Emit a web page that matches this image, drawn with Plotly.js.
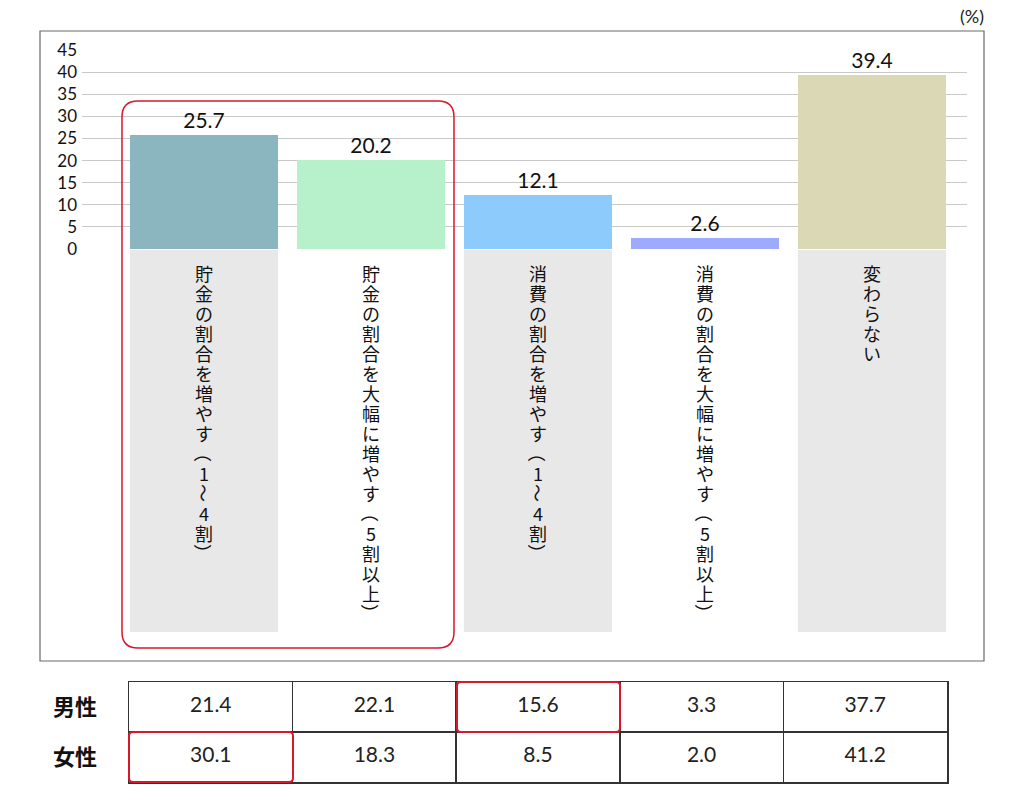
<!DOCTYPE html>
<html>
<head>
<meta charset="utf-8">
<script src="https://cdn.plot.ly/plotly-3.0.1.min.js"></script>
<style>
  html, body { margin: 0; padding: 0; background: #fff; }
</style>
</head>
<body>
<div id="chart"></div>
<script>
// data
const categories = [
    "貯金の割合を増やす（1～4割）",
    "貯金の割合を大幅に増やす（5割以上）",
    "消費の割合を増やす（1～4割）",
    "消費の割合を大幅に増やす（5割以上）",
    "変わらない"
];
const totalValues = [25.7, 20.2, 12.1, 2.6, 39.4];
const maleValues = [21.4, 22.1, 15.6, 3.3, 37.7];
const femaleValues = [30.1, 18.3, 8.5, 2.0, 41.2];
const rowLabels = ["男性", "女性"];
const barColors = ["#8bb6bf", "#b7f1cc", "#8ecbfd", "#9eaafd", "#dbd8b6"];

const W = 1024, H = 801;
const FONT = "Noto Sans CJK JP, Noto Sans, sans-serif";
const NUMFONT = "Lato, Noto Sans CJK JP, sans-serif";
const RED = "#d8192b";
const GRIDLINE = "#333";

// pixel -> paper helpers (margins are zero so paper == page)
const px = v => v / W;
const py = v => 1 - v / H;

function roundRect(x0, y0, x1, y1, r) {
    const X = v => px(v).toFixed(5), Y = v => py(v).toFixed(5);
    return `M${X(x0 + r)},${Y(y0)} L${X(x1 - r)},${Y(y0)} Q${X(x1)},${Y(y0)} ${X(x1)},${Y(y0 + r)} ` +
        `L${X(x1)},${Y(y1 - r)} Q${X(x1)},${Y(y1)} ${X(x1 - r)},${Y(y1)} ` +
        `L${X(x0 + r)},${Y(y1)} Q${X(x0)},${Y(y1)} ${X(x0)},${Y(y1 - r)} ` +
        `L${X(x0)},${Y(y0 + r)} Q${X(x0)},${Y(y0)} ${X(x0 + r)},${Y(y0)} Z`;
}

const barWidth = 0.888;

const bars = {
    type: "bar",
    x: categories,
    y: totalValues,
    width: barWidth,
    marker: {color: barColors, line: {width: 0}},
    text: totalValues.map(v => v.toFixed(1)),
    textposition: "outside",
    textfont: {family: NUMFONT, size: 21, color: "#111"},
    cliponaxis: false,
    hoverinfo: "skip",
    xaxis: "x",
    yaxis: "y"
};

// the small table under the chart: a text grid on its own subplot
const colIdx = categories.map((c, i) => i);
const tableText = {
    type: "scatter",
    mode: "text",
    x: colIdx.concat(colIdx),
    y: colIdx.map(() => 1).concat(colIdx.map(() => 0)),
    text: maleValues.map(v => v.toFixed(1)).concat(femaleValues.map(v => v.toFixed(1))),
    textposition: "middle center",
    textfont: {family: NUMFONT, size: 21, color: "#222"},
    cliponaxis: false,
    hoverinfo: "skip",
    xaxis: "x2",
    yaxis: "y2"
};

// shapes: frame, grey label panels, red highlight boxes
const shapes = [{
    type: "rect", xref: "paper", yref: "paper",
    x0: px(40), x1: px(984), y0: py(661), y1: py(31),
    line: {color: "#6a6a6a", width: 1.2}, layer: "below"
}];
[0, 2, 4].forEach(i => {
    shapes.push({
        type: "rect", xref: "x", yref: "paper",
        x0: i - barWidth / 2, x1: i + barWidth / 2,
        y0: py(632), y1: py(250),
        fillcolor: "#e8e8e8", line: {width: 0}, layer: "below"
    });
});
shapes.push({type: "path", xref: "paper", yref: "paper", path: roundRect(122, 101, 454, 648, 16),
    line: {color: RED, width: 1.5}});
shapes.push({type: "path", xref: "paper", yref: "paper", path: roundRect(457, 682, 620, 732, 4),
    line: {color: RED, width: 2}});
shapes.push({type: "path", xref: "paper", yref: "paper", path: roundRect(129, 732, 293, 782, 4),
    line: {color: RED, width: 2}});

// vertical labels: one annotation per character
const annotations = [];
const rotated = "（）～";
categories.forEach((label, i) => {
    Array.from(label).forEach((ch, k) => {
        annotations.push({
            xref: "x", yref: "paper",
            x: categories[i], y: py(273 + k * 20),
            text: ch,
            showarrow: false,
            textangle: rotated.includes(ch) ? 90 : 0,
            xanchor: "center", yanchor: "middle",
            font: {family: FONT, size: 18, color: "#111"}
        });
    });
});
annotations.push({
    xref: "paper", yref: "paper",
    x: px(986), y: py(16),
    text: "(%)", showarrow: false,
    xanchor: "right", yanchor: "middle",
    font: {family: NUMFONT, size: 18, color: "#222"}
});

const boundaries = [-0.5, 0.5, 1.5, 2.5, 3.5, 4.5];

const layout = {
    width: W,
    height: H,
    autosize: false,
    margin: {l: 0, r: 0, t: 0, b: 0, pad: 0},
    paper_bgcolor: "#fff",
    plot_bgcolor: "rgba(0,0,0,0)",
    showlegend: false,
    bargap: 0,
    xaxis: {
        type: "category",
        domain: [px(82), px(967)],
        range: [-0.7305, 4.569],
        showticklabels: false,
        showgrid: false,
        zeroline: false,
        showline: false,
        ticks: ""
    },
    yaxis: {
        domain: [py(249), py(50)],
        range: [0, 45],
        dtick: 5,
        tick0: 0,
        showgrid: true,
        gridcolor: "#c9c9c9",
        gridwidth: 1,
        zeroline: false,
        showline: false,
        ticks: "",
        ticklabelstandoff: 4,
        tickfont: {family: NUMFONT, size: 17, color: "#111"}
    },
    xaxis2: {
        anchor: "y2",
        domain: [px(129), px(947)],
        range: [-0.5, 4.5],
        tickmode: "array",
        tickvals: boundaries,
        showticklabels: false,
        showgrid: true,
        gridcolor: GRIDLINE,
        gridwidth: 1.5,
        zeroline: false,
        showline: true,
        mirror: true,
        linecolor: GRIDLINE,
        linewidth: 1.5,
        ticks: ""
    },
    yaxis2: {
        anchor: "x2",
        domain: [py(782), py(682)],
        range: [-0.5, 1.5],
        tickmode: "array",
        tickvals: [1, 0],
        ticktext: rowLabels,
        showgrid: false,
        zeroline: false,
        showline: true,
        mirror: true,
        linecolor: GRIDLINE,
        linewidth: 1.5,
        ticks: "",
        ticklabelstandoff: 26,
        tickfont: {family: FONT, size: 22, color: "#111", weight: "bold"},
        minor: {
            tickmode: "array",
            tickvals: [-0.5, 0.5, 1.5],
            showgrid: true,
            gridcolor: GRIDLINE,
            gridwidth: 1.5,
            ticks: ""
        }
    },
    shapes: shapes,
    annotations: annotations,
    font: {family: FONT}
};

Plotly.newPlot("chart", [bars, tableText], layout, {displayModeBar: false, staticPlot: true});
</script>
</body>
</html>
